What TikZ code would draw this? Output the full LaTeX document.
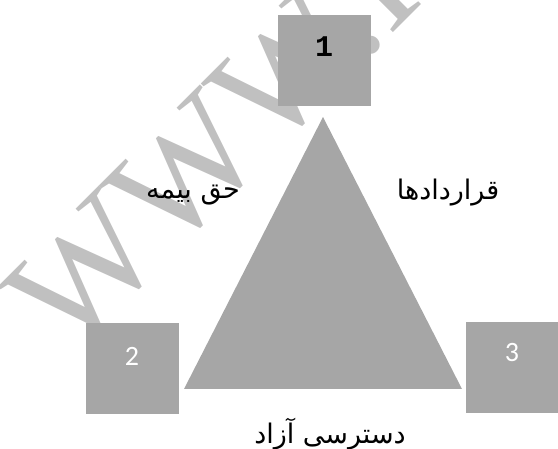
\documentclass[tikz,border=0pt]{standalone}
\usepackage{fontspec}
\setmainfont{Liberation Serif}
\newfontfamily\arabicfont[Script=Arabic]{DejaVu Sans}
\newfontfamily\wmfont{Liberation Serif}
\newfontfamily\numfont{Carlito}
\newfontfamily\monofont{Liberation Mono}
\TeXXeTstate=1
\definecolor{boxgray}{HTML}{A6A6A6}
\definecolor{wmgray}{HTML}{C0C0C0}
\begin{document}
\begin{tikzpicture}[x=1pt,y=-1pt,
  box/.style={fill=boxgray, draw=none, minimum width=93pt, minimum height=91pt, inner sep=0pt},
  farsi/.style={inner sep=0pt, font=\fontsize{27}{30}\arabicfont},
  whitenum/.style={inner sep=0pt, text=white, font=\fontsize{28}{30}\numfont},
  blacknum/.style={inner sep=0pt, text=black, font=\fontsize{30}{32}\monofont\bfseries},
  watermark/.style={inner sep=0pt, text=wmgray, rotate=45, anchor=base west, font=\fontsize{152}{152}\wmfont}]
\useasboundingbox (0,0) rectangle (558,449);
% watermark
\node[watermark] (wm) at (68,358) {WWW.I};
% triangle
\coordinate (apex) at (323,117);
\coordinate (bl) at (184,389);
\coordinate (br) at (462,389);
\fill[boxgray] (apex) -- (bl) -- (br) -- cycle;
% boxes
\node[box] (b1) at (324.5,60.5) {};
\node[box] (b2) at (132.5,369) {};
\node[box] (b3) at (512.5,367.5) {};
\node[blacknum] (n1) at (324,47) {1};
\node[whitenum] (n2) at (132,356) {2};
\node[whitenum] (n3) at (512,353) {3};
% labels
\node[farsi] (l1) at (193,195) {\beginR حق بیمه\endR};
\node[farsi] (l2) at (448,193) {\beginR قراردادها\endR};
\node[farsi] (l3) at (330,434) {\beginR دسترسی آزاد\endR};
\end{tikzpicture}
\end{document}
